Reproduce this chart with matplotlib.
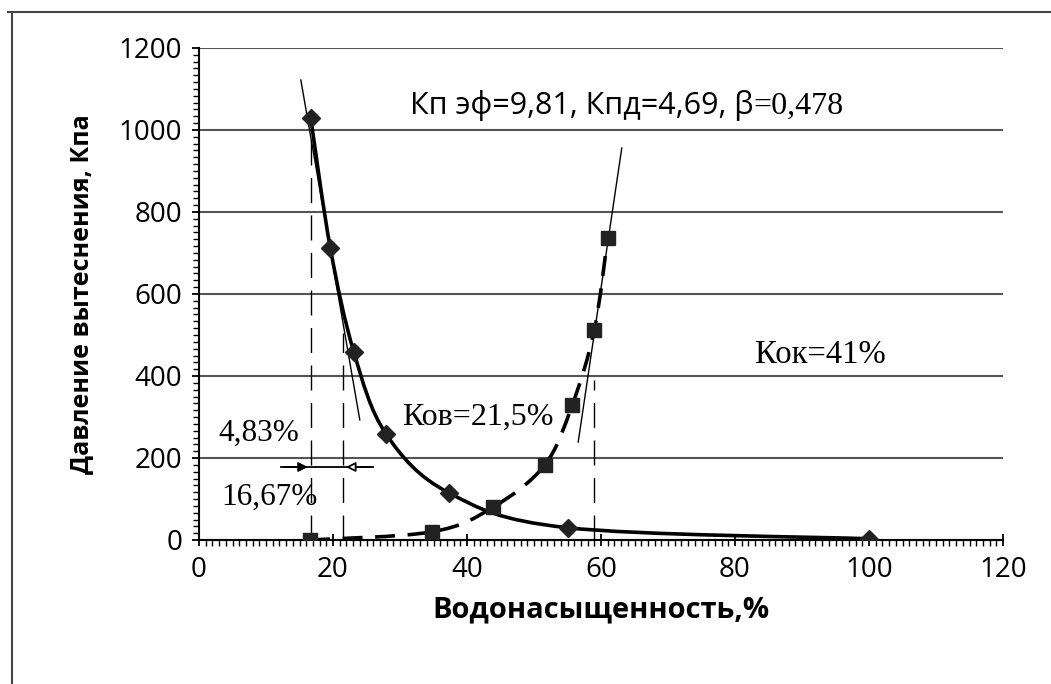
import matplotlib
matplotlib.use("Agg")
import matplotlib.pyplot as plt
import numpy as np
from matplotlib.path import Path
from matplotlib.patches import PathPatch
from matplotlib.ticker import MultipleLocator
from matplotlib.lines import Line2D

# data
sw_drain = [16.67, 19.6, 23.1, 27.9, 37.3, 55.0, 100.0]   # diamonds
p_drain = [1030, 712, 459, 259, 115, 30, 3]
sw_imb = [16.6, 34.8, 43.9, 51.6, 55.7, 59.0, 61.0]       # squares
p_imb = [0, 20, 80, 183, 329, 512, 737]
tan_left_x = [15.2, 24.0]
tan_left_y = [1122, 293]
tan_right_x = [56.6, 63.1]
tan_right_y = [239, 956]
v_lines = [16.67, 21.5, 59.0]
v_tops = [1030, 505, 390]

SANS = "Open Sans"
SERIF = "Liberation Serif"


def smooth_path(xs, ys):
    # excel-like smoothed line (catmull-rom -> bezier)
    pts = np.column_stack([xs, ys]).astype(float)
    n = len(pts)
    verts = [pts[0]]
    codes = [Path.MOVETO]
    for i in range(n - 1):
        p0 = pts[max(i - 1, 0)]
        p1 = pts[i]
        p2 = pts[i + 1]
        p3 = pts[min(i + 2, n - 1)]
        verts += [p1 + (p2 - p0) / 6, p2 - (p3 - p1) / 6, p2]
        codes += [Path.CURVE4] * 3
    return Path(verts, codes)


fig = plt.figure(figsize=(10.51, 6.84), dpi=100)
ax = fig.add_axes([199 / 1051, 1 - 540 / 684, (1003 - 199) / 1051, (540 - 48) / 684])

ax.set_xlim(0, 120)
ax.set_ylim(0, 1200)
ax.xaxis.set_major_locator(MultipleLocator(20))
ax.xaxis.set_minor_locator(MultipleLocator(1))
ax.yaxis.set_major_locator(MultipleLocator(200))
ax.yaxis.set_minor_locator(MultipleLocator(200 / 12))
ax.spines["top"].set_visible(False)
ax.spines["right"].set_visible(False)
ax.spines["left"].set_linewidth(1.5)
ax.spines["bottom"].set_linewidth(1.5)
ax.grid(axis="y", which="major", color="#555555", lw=1.5)
ax.set_axisbelow(True)

ax.tick_params(axis="x", which="major", direction="inout", length=9, width=1.3, pad=7)
ax.tick_params(axis="x", which="minor", direction="out", length=4.5, width=1.0)
ax.tick_params(axis="y", which="major", direction="out", length=5, width=1.3, pad=7)
ax.tick_params(axis="y", which="minor", direction="out", length=4.5, width=1.0)
for lab in ax.get_xticklabels() + ax.get_yticklabels():
    lab.set_fontfamily(SANS)
    lab.set_fontsize(20)

ax.set_xlabel("Водонасыщенность,%", fontfamily=SANS, fontsize=21, fontweight="bold", labelpad=8)
ax.set_ylabel("Давление вытеснения, Кпа", fontfamily=SANS, fontsize=18, fontweight="bold", labelpad=18)

# vertical dashed guides
for xv, yt in zip(v_lines, v_tops):
    ax.plot([xv, xv], [0, yt], color="k", lw=1.0, linestyle=(0, (18, 9)), zorder=3)

# tangent lines
ax.plot(tan_left_x, tan_left_y, color="k", lw=1.0, zorder=3)
ax.plot(tan_right_x, tan_right_y, color="k", lw=1.0, zorder=3)

# smoothed curves
ax.add_patch(PathPatch(smooth_path(sw_drain, p_drain), fill=False, ec="k", lw=2.6, zorder=4))
ax.add_patch(PathPatch(smooth_path(sw_imb, p_imb), fill=False, ec="k", lw=2.6,
                       linestyle=(0, (5.5, 3.5)), zorder=4))
ax.plot(sw_drain, p_drain, linestyle="none", marker="D", ms=9.5, color="#222222", zorder=5)
ax.plot(sw_imb, p_imb, linestyle="none", marker="s", ms=10, color="#222222", zorder=5)

# arrows between 16,67 and 21,5
ax.plot([12.3, 26.0], [178, 178], color="k", lw=1.3, zorder=3)
ax.annotate("", xy=(16.67, 178), xytext=(12.3, 178),
            arrowprops=dict(arrowstyle="-|>", color="k", lw=1.3, mutation_scale=14))
ax.annotate("", xy=(21.5, 178), xytext=(26.0, 178),
            arrowprops=dict(arrowstyle="-|>", color="k", fc="white", lw=1.3, mutation_scale=14))

# texts
ax.text(2.9, 261, "4,83%", fontfamily=SERIF, fontsize=22.5, va="center", ha="left")
ax.text(3.3, 105, "16,67%", fontfamily=SERIF, fontsize=22.5, va="center", ha="left")
ax.text(30.3, 298, "Ков=21,5%", fontfamily=SERIF, fontsize=23, va="center", ha="left")
ax.text(83.0, 451, "Кок=41%", fontfamily=SERIF, fontsize=23.5, va="center", ha="left")

t1 = ax.text(31.5, 1040, "Кп эф=9,81, Кпд=4,69, β", fontfamily=SANS, fontsize=22,
             va="baseline", ha="left")
fig.canvas.draw()
bb = t1.get_window_extent()
x_end = ax.transData.inverted().transform((bb.x1, bb.y0))[0]
ax.text(x_end, 1040, "=0,478", fontfamily=SERIF, fontsize=23, va="baseline", ha="left")

# outer frame lines (top and left)
fig.add_artist(Line2D([8 / 1051, 1.0], [1 - 12 / 684, 1 - 12 / 684], color="#444444", lw=1.5))
fig.add_artist(Line2D([12 / 1051, 12 / 1051], [0, 1 - 12 / 684], color="#444444", lw=1.5))

fig.savefig("out.png", dpi=100, facecolor="white")
